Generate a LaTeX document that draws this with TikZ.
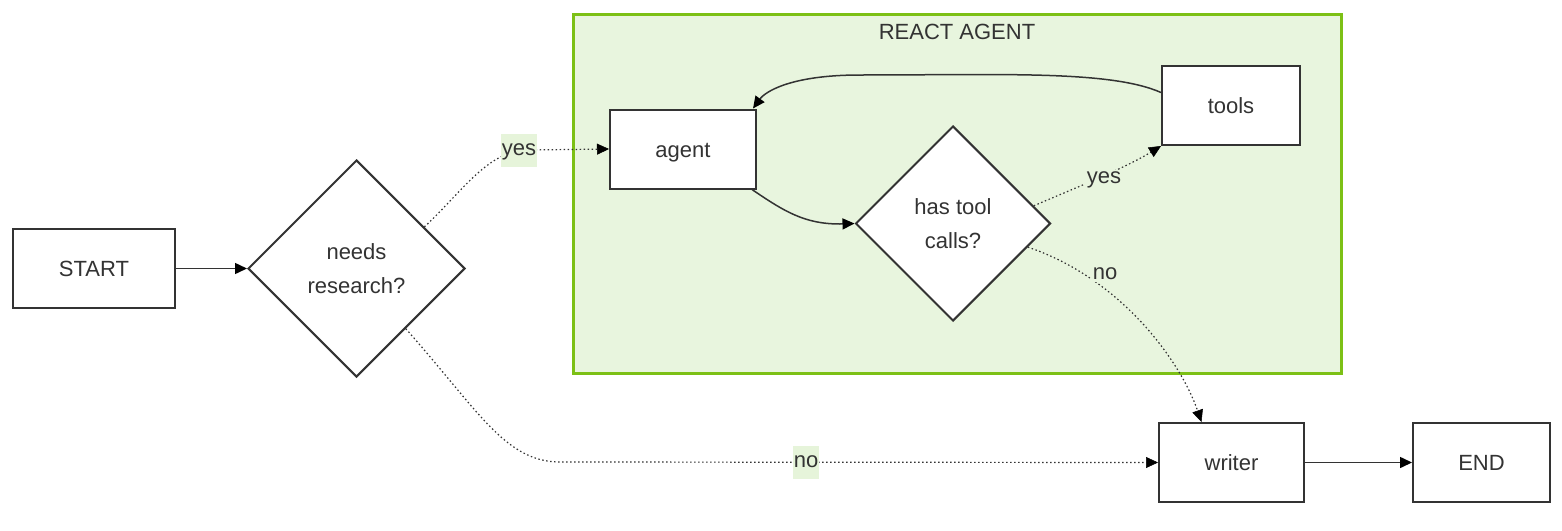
\documentclass[tikz,border=0pt]{standalone}
\usepackage{fontspec}
\setmainfont{Liberation Sans}
\usetikzlibrary{shapes.geometric,arrows.meta,calc}
\definecolor{txt}{HTML}{333333}
\definecolor{clfill}{HTML}{E8F5DE}
\definecolor{clborder}{HTML}{7CC015}
\definecolor{lblbg}{HTML}{E6F4DA}
\tikzset{
  every node/.style={text=txt, font=\fontsize{22}{34}\selectfont},
  boxnode/.style={draw=txt, line width=2pt, fill=white, rectangle, minimum width=#1, minimum height=79pt, inner sep=0pt, text height=16pt, text depth=0pt},
  decision/.style={draw=txt, line width=2pt, fill=white, diamond, aspect=1, minimum width=#1, minimum height=#1, inner sep=0pt, align=center},
  solidedge/.style={draw=txt, line width=1.5pt, -{Triangle[length=12pt,width=11pt,color=black,fill=black]}},
  dotedge/.style={draw=txt, line width=1.2pt, dash pattern=on 1.5pt off 2.5pt, -{Triangle[length=12pt,width=11pt,color=black,fill=black,line width=0.5pt]}},
  lbl/.style={fill=lblbg, inner xsep=1pt, inner ysep=6pt, text height=16pt, text depth=5pt},
  lblin/.style={inner sep=2pt, fill=clfill},
}
\begin{document}
\begin{tikzpicture}[x=1pt,y=-1pt]
\useasboundingbox (0,0) rectangle (1562,530);
% cluster
\node[draw=clborder, line width=3pt, fill=clfill, rectangle, minimum width=768pt, minimum height=359pt, inner sep=0pt] (cluster) at (957,193.5) {};
\node (cltitle) at (957,32) {REACT AGENT};
% nodes
\node[boxnode=162pt] (start) at (94,268.5) {START};
\node[decision=217pt] (needs) at (356.5,268.5) {needs\\research?};
\node[boxnode=146pt] (agent) at (683,149) {agent};
\node[boxnode=138pt] (tools) at (1231,105.5) {tools};
\node[decision=195pt] (htc) at (953,223.5) {has tool\\calls?};
\node[boxnode=145pt] (writer) at (1231.5,462.5) {writer};
\node[boxnode=137pt] (endn) at (1481.5,462.5) {END};
% edges
\draw[solidedge] (start) -- (needs.west);
\draw[dotedge] ($(needs.north)!0.62!(needs.east)$) .. controls (462,192) and (488,150) .. (528,150) -- (agent.west);
\node[lbl] (yes1) at (519,150) {yes};
\draw[dotedge] ($(needs.east)!0.55!(needs.south)$) .. controls (478,410) and (505,462) .. (560,462) -- (writer.west);
\node[lbl] (no1) at (806,462) {no};
\draw[solidedge] ($(agent.south east)+(-5,0)$) .. controls (785,212) and (805,224) .. (840,224) -- (htc.west);
\draw[dotedge] ($(htc.north)!0.82!(htc.east)$) .. controls (1080,186) and (1125,168) .. (tools.south west);
\node[lblin] (yes2) at (1104,180) {yes};
\draw[dotedge] ($(htc.east)!0.24!(htc.south)$) .. controls (1120,278) and (1180,360) .. ($(writer.north)+(-30,0)$);
\node[lblin] (no2) at (1105,274) {no};
\draw[solidedge] ($(tools.west)+(0,-13)$) .. controls (1110,70) and (1000,75) .. (860,75) .. controls (790,75) and (765,92) .. ($(agent.north east)+(-4,0)$);
\draw[solidedge] (writer) -- (endn);
\end{tikzpicture}
\end{document}
